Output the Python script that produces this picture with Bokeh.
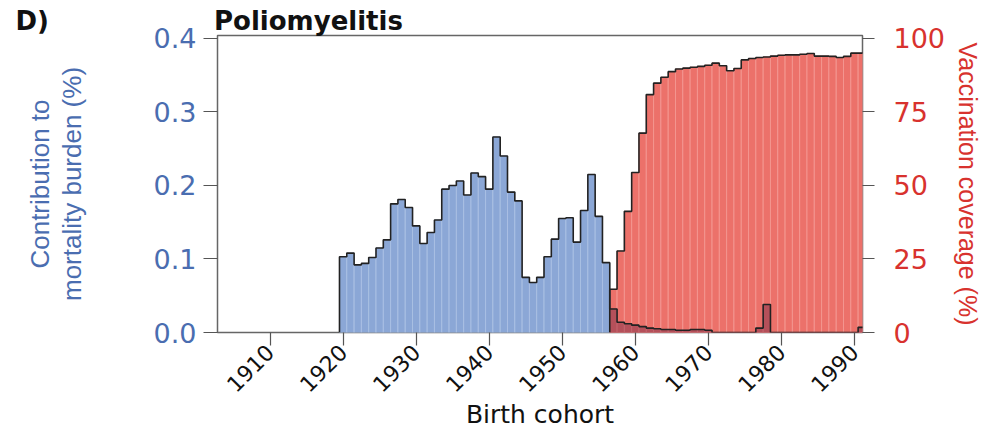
from math import pi
from bokeh.plotting import figure
from bokeh.models import Range1d, LinearAxis, FixedTicker, NumeralTickFormatter, ColumnDataSource
from bokeh.embed import file_html
from bokeh.resources import INLINE

# ---------------- data ----------------
mort_years = list(range(1920, 1992))
mortality = [0.103, 0.108, 0.092, 0.094, 0.102, 0.115, 0.126, 0.175, 0.181, 0.170,
             0.145, 0.121, 0.136, 0.153, 0.195, 0.200, 0.206, 0.187, 0.217, 0.212,
             0.195, 0.266, 0.240, 0.191, 0.179, 0.075, 0.068, 0.075, 0.103, 0.127,
             0.155, 0.156, 0.123, 0.166, 0.215, 0.158, 0.095,
             0.032, 0.014, 0.012, 0.010, 0.008, 0.006, 0.005, 0.004, 0.004, 0.003,
             0.003, 0.004, 0.004, 0.003, 0.000, 0.000, 0.000, 0.000, 0.000, 0.000,
             0.006, 0.038, 0.000, 0.000, 0.000, 0.000, 0.000, 0.000, 0.000, 0.000,
             0.000, 0.000, 0.000, 0.000, 0.007]

cov_years = list(range(1957, 1992))
coverage = [14.7, 27.7, 41.2, 54.4, 67.8, 80.9, 84.8, 86.8, 88.7, 89.6,
            89.9, 90.2, 90.5, 90.9, 91.6, 90.7, 89.0, 89.8, 92.7, 93.2,
            93.5, 93.7, 94.0, 94.3, 94.4, 94.4, 94.6, 94.9, 94.0, 94.0,
            93.9, 93.5, 93.9, 95.0, 95.0]

x_ticks = [1910, 1920, 1930, 1940, 1950, 1960, 1970, 1980, 1990]
left_ticks = [0.0, 0.1, 0.2, 0.3, 0.4]
right_ticks = [0, 25, 50, 75, 100]

BLUE_TXT = "#4a6db0"
RED_TXT = "#d8322e"
BLUE_FILL = "#8ba7d6"
BLUE_SEP = "#a9bfe3"
RED_FILL = "#ec716a"
RED_SEP = "#f3958f"
DARK_FILL = "#b5505a"
DARK_SEP = "#c2646d"
AX = "#555555"


def outline(years, vals):
    xs = [years[0] - 0.5]
    ys = [0.0]
    for yr, v in zip(years, vals):
        xs += [yr - 0.5, yr + 0.5]
        ys += [v, v]
    xs.append(years[-1] + 0.5)
    ys.append(0.0)
    return xs, ys


p = figure(frame_width=645, frame_height=297,
           x_range=Range1d(1902.8, 1991.1), y_range=Range1d(0, 0.404),
           output_backend="svg", toolbar_location=None,
           min_border_left=217, min_border_right=136,
           min_border_top=35, min_border_bottom=94)
p.extra_y_ranges = {"cov": Range1d(0, 101)}
p.grid.visible = False
p.outline_line_color = "#666666"
p.outline_line_width = 1.5
p.background_fill_color = None
p.border_fill_color = None

# panel letter and title share the title line
p.title.text = "D)" + "\u2003" * 6 + " Poliomyelitis"
p.title.align = "left"
p.title.offset = -202
p.title.text_font = "DejaVu Sans"
p.title.text_font_size = "26px"
p.title.text_font_style = "bold"
p.title.text_color = "#111111"
p.title.standoff = 0

# coverage bars (right axis)
cov_src = ColumnDataSource(dict(x=cov_years, top=coverage))
p.vbar(x="x", top="top", width=1.0, source=cov_src, y_range_name="cov",
       fill_color=RED_FILL, line_color=RED_SEP, line_width=1)

# mortality bars (left axis)
cov_set = set(cov_years)
mcolors = [DARK_FILL if yr in cov_set else BLUE_FILL for yr in mort_years]
mseps = [DARK_SEP if yr in cov_set else BLUE_SEP for yr in mort_years]
m_src = ColumnDataSource(dict(x=mort_years, top=mortality, fc=mcolors, lc=mseps))
p.vbar(x="x", top="top", width=1.0, source=m_src,
       fill_color="fc", line_color="lc", line_width=1)

# outlines
cx, cy = outline(cov_years, coverage)
p.line(cx, cy, y_range_name="cov", line_color="#222222", line_width=1.6)
mx, my = outline(mort_years, mortality)
p.line(mx, my, line_color="#222222", line_width=1.6)

# left axis
ya = p.yaxis[0]
ya.ticker = FixedTicker(ticks=left_ticks)
ya.formatter = NumeralTickFormatter(format="0.0")
ya.axis_line_color = None
ya.major_tick_line_color = AX
ya.major_tick_line_width = 1.2
ya.major_tick_out = 14
ya.major_tick_in = 0
ya.minor_tick_line_color = None
ya.major_label_text_font = "DejaVu Sans"
ya.major_label_text_font_size = "27px"
ya.major_label_text_color = BLUE_TXT
ya.major_label_standoff = 7
ya.axis_label = "Contribution to\nmortality burden (%)"
ya.axis_label_text_font = "Liberation Sans"
ya.axis_label_text_font_size = "26px"
ya.axis_label_text_font_style = "normal"
ya.axis_label_text_color = BLUE_TXT
ya.axis_label_text_line_height = 1.05
ya.axis_label_standoff = 64

# right axis
ra = LinearAxis(y_range_name="cov", ticker=FixedTicker(ticks=right_ticks))
ra.axis_line_color = None
ra.major_tick_line_color = AX
ra.major_tick_line_width = 1.2
ra.major_tick_out = 12
ra.major_tick_in = 0
ra.minor_tick_line_color = None
ra.major_label_text_font = "DejaVu Sans"
ra.major_label_text_font_size = "27px"
ra.major_label_text_color = RED_TXT
ra.major_label_standoff = 19
ra.axis_label = "Vaccination coverage (%)"
ra.axis_label_text_font = "Liberation Sans"
ra.axis_label_text_font_size = "25px"
ra.axis_label_text_font_style = "normal"
ra.axis_label_text_color = RED_TXT
ra.axis_label_standoff = 6
p.add_layout(ra, "right")

# x axis
xa = p.xaxis[0]
xa.ticker = FixedTicker(ticks=x_ticks)
xa.axis_line_color = None
xa.major_tick_line_color = AX
xa.major_tick_line_width = 1.2
xa.major_tick_out = 13
xa.major_tick_in = 0
xa.minor_tick_line_color = None
xa.major_label_orientation = pi / 4
xa.major_label_text_font = "DejaVu Sans"
xa.major_label_text_font_size = "22px"
xa.major_label_text_color = "#111111"
xa.major_label_standoff = 3
xa.axis_label = "Birth cohort"
xa.axis_label_text_font = "DejaVu Sans"
xa.axis_label_text_font_size = "25px"
xa.axis_label_text_font_style = "normal"
xa.axis_label_text_color = "#111111"
xa.axis_label_standoff = -2

open("out.html", "w").write(file_html(p, INLINE))
